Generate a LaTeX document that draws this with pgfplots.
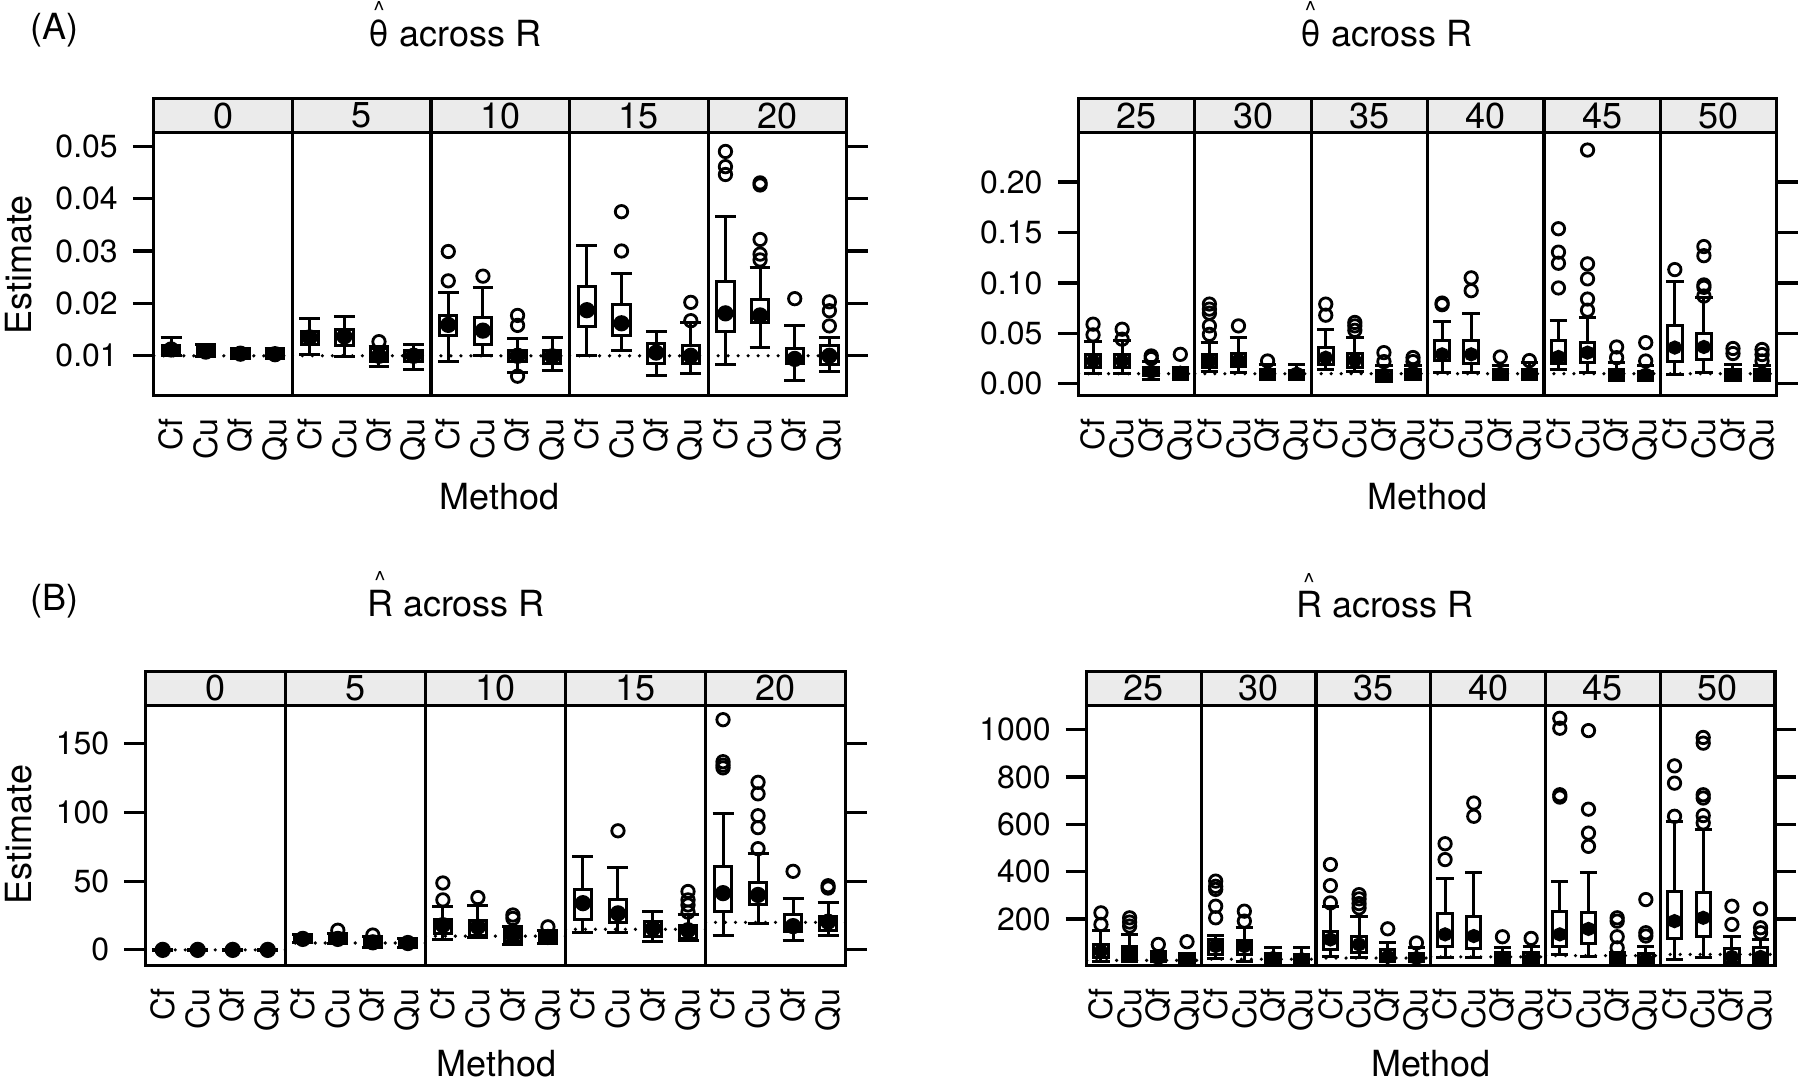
\documentclass[border=0pt]{standalone}
\usepackage{fontspec}
\setmainfont{TeX Gyre Heros}
\usepackage{pgfplots}
\pgfplotsset{compat=1.18}
\usepgfplotslibrary{statistics}

\definecolor{stripgray}{gray}{0.92}
\newcommand\labsize{\fontsize{18}{21}\selectfont}
\newcommand\ticksize{\fontsize{16}{18}\selectfont}
\newcommand\stripsize{\fontsize{18}{20}\selectfont}
% letter with a detached circumflex above it
\newcommand\hatted[1]{\leavevmode\setbox0\hbox{#1}\rlap{\hbox to\wd0{\hss\raisebox{13.8pt}{\fontsize{12}{12}\selectfont\textasciicircum}\hss}}\box0\relax}

\def\medr{3.3pt}
% shaded strip with the R level above each panel
\newcommand\striphdr[1]{%
  \draw[line width=1.6pt, fill=stripgray] (0,1) rectangle ([yshift=17pt]1,1);
  \node[font=\stripsize, inner sep=0pt] at ([yshift=8.5pt]0.5,1) {#1};}

\pgfplotsset{
  strip/.style={
    scale only axis, anchor=south west,
    xmin=0.5, xmax=4.5,
    axis line style={line width=1.6pt},
    xtick={1,2,3,4}, xticklabels={Cf,Cu,Qf,Qu},
    x tick style={draw=none},
    y tick style={line width=1.6pt, black},
    tick align=outside, major tick length=10.5pt,
    xticklabel style={rotate=90, anchor=east, inner xsep=1pt, font=\ticksize},
    yticklabel style={font=\ticksize, xshift=-4pt},
    scaled y ticks=false,
    /pgf/number format/assume math mode=true,
    /pgf/number format/1000 sep={},
  },
  first/.style={ytick pos=left},
  mid/.style={ytick=\empty},
  last/.style={ytick pos=right, yticklabels={,,,,,,}},
  panelA/.style={height=131.5pt, width=69.29pt, ymin=0.0024, ymax=0.0526,
    ytick={0.01,0.02,0.03,0.04,0.05},
    /pgf/number format/fixed, /pgf/number format/fixed zerofill, /pgf/number format/precision=2},
  panelAR/.style={height=131.5pt, width=58.175pt, ymin=-0.0117, ymax=0.249,
    ytick={0,0.05,0.10,0.15,0.20},
    /pgf/number format/fixed, /pgf/number format/fixed zerofill, /pgf/number format/precision=2},
  panelB/.style={height=130pt, width=70.04pt, ymin=-11.3, ymax=178,
    ytick={0,50,100,150}},
  panelBR/.style={height=130pt, width=57.36pt, ymin=3.9, ymax=1102.5,
    ytick={200,400,600,800,1000}},
  bxp/.style={black, line width=1.5pt, mark=o, mark size=3.1pt,
    mark options={line width=1.4pt, solid},
    boxplot/draw/median/.code={\fill (boxplot box cs:\pgfplotsboxplotvalue{median},0.5) circle[radius=\medr];}},
  refline/.style={black, line width=1.8pt, line cap=round, dash pattern=on 0pt off 5pt},
}

% one box: position, lower whisker, lower quartile, median, upper quartile, upper whisker, outliers
\newcommand\bx[7]{\addplot[bxp, boxplot prepared={draw direction=y, draw position=#1,
  lower whisker=#2, lower quartile=#3, median=#4, upper quartile=#5, upper whisker=#6,
  box extend=0.5, whisker extend=0.6}] coordinates {#7};}
% true value of the parameter
\newcommand\truth[1]{\addplot[refline] coordinates {(0.5,#1) (4.5,#1)};}

\begin{document}
\begin{tikzpicture}
\path[use as bounding box] (0pt,0pt) rectangle (900pt,541pt);

% ---------------- titles and labels ----------------
\node[anchor=base west, font=\labsize] at (11.5pt,521pt) {(A)};
\node[anchor=base, font=\labsize] at (227.5pt,517.75pt) {\hatted{θ} across R};
\node[anchor=base, font=\labsize] at (693.25pt,517.75pt) {\hatted{θ} across R};
\node[anchor=base west, font=\labsize] at (11.5pt,235.5pt) {(B)};
\node[anchor=base, font=\labsize] at (228pt,232.7pt) {\hatted{R} across R};
\node[anchor=base, font=\labsize] at (692.5pt,232pt) {\hatted{R} across R};
\node[anchor=base, rotate=90, font=\labsize] at (15.8pt,408.5pt) {Estimate};
\node[anchor=base, rotate=90, font=\labsize] at (15.8pt,123.75pt) {Estimate};
\node[anchor=base, font=\labsize] at (249.75pt,286.2pt) {Method};
\node[anchor=base, font=\labsize] at (713.75pt,286.2pt) {Method};
\node[anchor=base, font=\labsize] at (248.25pt,2.5pt) {Method};
\node[anchor=base, font=\labsize] at (715.5pt,2.5pt) {Method};

% ---------------- (A) theta-hat, R = 0..20 ----------------
\begin{axis}[strip, panelA, first, at={(76.9pt,343.2pt)}, extra description/.code={\striphdr{0}}]
\truth{0.01}
\bx{1}{0.0100}{0.0105}{0.0112}{0.0120}{0.0134}{}
\bx{2}{0.0098}{0.0102}{0.0108}{0.0115}{0.0121}{}
\bx{3}{0.0095}{0.0099}{0.0104}{0.0108}{0.0113}{}
\bx{4}{0.0094}{0.0099}{0.0103}{0.0108}{0.0113}{}
\end{axis}
\begin{axis}[strip, panelA, mid, at={(146.19pt,343.2pt)}, extra description/.code={\striphdr{5}}]
\truth{0.01}
\bx{1}{0.0103}{0.0122}{0.0135}{0.0146}{0.0172}{}
\bx{2}{0.0098}{0.0120}{0.0137}{0.0151}{0.0175}{}
\bx{3}{0.0080}{0.0090}{0.0100}{0.0113}{0.0118}{(0,0.0127)}
\bx{4}{0.0073}{0.0089}{0.0100}{0.0111}{0.0122}{}
\end{axis}
\begin{axis}[strip, panelA, mid, at={(215.48pt,343.2pt)}, extra description/.code={\striphdr{10}}]
\truth{0.01}
\bx{1}{0.0090}{0.0139}{0.0159}{0.0176}{0.0221}{(0,0.0299) (0,0.0243)}
\bx{2}{0.0101}{0.0122}{0.0148}{0.0173}{0.0230}{(0,0.0252)}
\bx{3}{0.0068}{0.0090}{0.0100}{0.0110}{0.0133}{(0,0.0177) (0,0.0158) (0,0.0061)}
\bx{4}{0.0071}{0.0086}{0.0099}{0.0110}{0.0134}{}
\end{axis}
\begin{axis}[strip, panelA, mid, at={(284.77pt,343.2pt)}, extra description/.code={\striphdr{15}}]
\truth{0.01}
\bx{1}{0.0100}{0.0155}{0.0187}{0.0232}{0.0311}{}
\bx{2}{0.0111}{0.0139}{0.0162}{0.0197}{0.0258}{(0,0.0375) (0,0.0300)}
\bx{3}{0.0062}{0.0086}{0.0106}{0.0124}{0.0146}{}
\bx{4}{0.0066}{0.0086}{0.0100}{0.0119}{0.0163}{(0,0.0202) (0,0.0167)}
\end{axis}
\begin{axis}[strip, panelA, last, at={(354.06pt,343.2pt)}, extra description/.code={\striphdr{20}}]
\truth{0.01}
\bx{1}{0.0083}{0.0146}{0.0181}{0.0242}{0.0365}{(0,0.0490) (0,0.0461) (0,0.0446)}
\bx{2}{0.0116}{0.0163}{0.0177}{0.0208}{0.0268}{(0,0.0430) (0,0.0426) (0,0.0322) (0,0.0294) (0,0.0283)}
\bx{3}{0.0052}{0.0086}{0.0094}{0.0113}{0.0157}{(0,0.0209)}
\bx{4}{0.0070}{0.0084}{0.0100}{0.0119}{0.0134}{(0,0.0203) (0,0.0186) (0,0.0157)}
\end{axis}

% ---------------- (A) theta-hat, R = 25..50 ----------------
\def\medr{2.8pt}
\begin{axis}[strip, panelAR, first, at={(539.25pt,343.2pt)}, extra description/.code={\striphdr{25}}]
\truth{0.01}
\bx{1}{0.0100}{0.0166}{0.0226}{0.0292}{0.0418}{(0,0.0591) (0,0.0485)}
\bx{2}{0.0100}{0.0166}{0.0226}{0.0292}{0.0425}{(0,0.0541) (0,0.0442)}
\bx{3}{0.004}{0.008}{0.012}{0.016}{0.022}{(0,0.0276) (0,0.025)}
\bx{4}{0.004}{0.007}{0.011}{0.014}{0.016}{(0,0.0292)}
\end{axis}
\begin{axis}[strip, panelAR, mid, at={(597.425pt,343.2pt)}, extra description/.code={\striphdr{30}}]
\truth{0.01}
\bx{1}{0.0126}{0.0166}{0.0226}{0.0292}{0.041}{(0,0.079) (0,0.074) (0,0.070) (0,0.0574) (0,0.049)}
\bx{2}{0.011}{0.0176}{0.023}{0.030}{0.0458}{(0,0.0574)}
\bx{3}{0.004}{0.007}{0.010}{0.014}{0.019}{(0,0.0226)}
\bx{4}{0.004}{0.007}{0.010}{0.013}{0.0193}{}
\end{axis}
\begin{axis}[strip, panelAR, mid, at={(655.6pt,343.2pt)}, extra description/.code={\striphdr{35}}]
\truth{0.01}
\bx{1}{0.0143}{0.0193}{0.0259}{0.0359}{0.054}{(0,0.079) (0,0.068)}
\bx{2}{0.012}{0.0166}{0.0232}{0.030}{0.0458}{(0,0.0608) (0,0.0574) (0,0.053)}
\bx{3}{0.002}{0.005}{0.008}{0.013}{0.018}{(0,0.0309) (0,0.022)}
\bx{4}{0.004}{0.006}{0.010}{0.014}{0.018}{(0,0.026) (0,0.022)}
\end{axis}
\begin{axis}[strip, panelAR, mid, at={(713.775pt,343.2pt)}, extra description/.code={\striphdr{40}}]
\truth{0.01}
\bx{1}{0.011}{0.0226}{0.0292}{0.0425}{0.0618}{(0,0.0784) (0,0.080)}
\bx{2}{0.011}{0.0199}{0.0292}{0.0425}{0.0697}{(0,0.105) (0,0.0923)}
\bx{3}{0.004}{0.006}{0.010}{0.014}{0.0186}{(0,0.0266)}
\bx{4}{0.004}{0.006}{0.010}{0.014}{0.021}{(0,0.023)}
\end{axis}
\begin{axis}[strip, panelAR, mid, at={(771.95pt,343.2pt)}, extra description/.code={\striphdr{45}}]
\truth{0.01}
\bx{1}{0.0143}{0.0199}{0.0266}{0.0432}{0.0624}{(0,0.1537) (0,0.1305) (0,0.1195) (0,0.095)}
\bx{2}{0.011}{0.0209}{0.0309}{0.0408}{0.0657}{(0,0.2317) (0,0.1189) (0,0.104) (0,0.084) (0,0.073)}
\bx{3}{0.003}{0.005}{0.009}{0.014}{0.0209}{(0,0.0365) (0,0.0259)}
\bx{4}{0.003}{0.005}{0.009}{0.012}{0.018}{(0,0.0408) (0,0.0226)}
\end{axis}
\begin{axis}[strip, panelAR, last, at={(830.125pt,343.2pt)}, extra description/.code={\striphdr{50}}]
\truth{0.01}
\bx{1}{0.0093}{0.0219}{0.0359}{0.0574}{0.1013}{(0,0.1132)}
\bx{2}{0.011}{0.0242}{0.0365}{0.0498}{0.0857}{(0,0.136) (0,0.127) (0,0.098) (0,0.0956) (0,0.087)}
\bx{3}{0.003}{0.005}{0.009}{0.014}{0.019}{(0,0.035) (0,0.030)}
\bx{4}{0.003}{0.006}{0.010}{0.014}{0.0186}{(0,0.034) (0,0.029) (0,0.0226)}
\end{axis}

% ---------------- (B) R-hat, R = 0..20 ----------------
\def\medr{3.3pt}
\begin{axis}[strip, panelB, first, at={(72.6pt,58.3pt)}, extra description/.code={\striphdr{0}}]
\truth{0}
\bx{1}{-0.5}{-0.2}{0}{0.2}{0.5}{}
\bx{2}{-0.5}{-0.2}{0}{0.2}{0.5}{}
\bx{3}{-0.5}{-0.2}{0}{0.2}{0.5}{}
\bx{4}{-0.5}{-0.2}{0}{0.2}{0.5}{}
\end{axis}
\begin{axis}[strip, panelB, mid, at={(142.64pt,58.3pt)}, extra description/.code={\striphdr{5}}]
\truth{5}
\bx{1}{5.5}{6.5}{8}{9.5}{11}{}
\bx{2}{5}{6.5}{8}{10}{12}{(0,14.3)}
\bx{3}{2}{3.5}{5.5}{7.5}{9.5}{(0,10.8)}
\bx{4}{2}{3.5}{5}{6.5}{8}{}
\end{axis}
\begin{axis}[strip, panelB, mid, at={(212.68pt,58.3pt)}, extra description/.code={\striphdr{10}}]
\truth{10}
\bx{1}{7.5}{11.9}{18}{22.2}{31.5}{(0,48.7) (0,36.4)}
\bx{2}{9}{10.7}{16.8}{21.7}{32.2}{(0,38.1)}
\bx{3}{4}{5.8}{10.7}{14.8}{16.8}{(0,25.4) (0,22.9)}
\bx{4}{4.5}{5.8}{9.4}{13}{14.3}{(0,16.8)}
\end{axis}
\begin{axis}[strip, panelB, mid, at={(282.72pt,58.3pt)}, extra description/.code={\striphdr{15}}]
\truth{15}
\bx{1}{12.4}{22.2}{34}{43.8}{68.3}{}
\bx{2}{13}{19.7}{26.6}{36.4}{59.7}{(0,86.7)}
\bx{3}{5.8}{9.9}{15.6}{20.5}{27.8}{}
\bx{4}{6.5}{8}{14.3}{18}{25.4}{(0,42.5) (0,36.4) (0,32.7) (0,27.5)}
\end{axis}
\begin{axis}[strip, panelB, last, at={(352.76pt,58.3pt)}, extra description/.code={\striphdr{20}}]
\truth{20}
\bx{1}{10.7}{27.8}{41.3}{60.9}{99.4}{(0,167.6) (0,137) (0,134.5) (0,132.5)}
\bx{2}{19.2}{32.7}{40}{49.1}{70}{(0,122) (0,113.6) (0,97.7) (0,89) (0,73.7)}
\bx{3}{6.5}{13.1}{17.3}{25.4}{37.6}{(0,57.2)}
\bx{4}{10.7}{14.3}{20.5}{24}{34.7}{(0,46.7) (0,45)}
\end{axis}

% ---------------- (B) R-hat, R = 25..50 ----------------
\def\medr{2.8pt}
\begin{axis}[strip, panelBR, first, at={(543.3pt,58.3pt)}, extra description/.code={\striphdr{25}}]
\truth{25}
\bx{1}{19.4}{36}{64.4}{92.5}{152}{(0,226) (0,177)}
\bx{2}{22}{32}{58}{85.5}{135}{(0,205) (0,187) (0,170)}
\bx{3}{5}{20}{35}{50}{64}{(0,92.5)}
\bx{4}{5}{15}{25}{40}{54}{(0,104)}
\end{axis}
\begin{axis}[strip, panelBR, mid, at={(600.66pt,58.3pt)}, extra description/.code={\striphdr{30}}]
\truth{30}
\bx{1}{32}{50}{85.5}{113.5}{130}{(0,360) (0,338) (0,325) (0,254) (0,205)}
\bx{2}{22}{50}{85.5}{111}{163}{(0,233) (0,191)}
\bx{3}{8}{20}{35}{55}{78}{}
\bx{4}{5}{15}{30}{50}{78}{}
\end{axis}
\begin{axis}[strip, panelBR, mid, at={(658.02pt,58.3pt)}, extra description/.code={\striphdr{35}}]
\truth{35}
\bx{1}{43}{71.4}{113.5}{149}{251}{(0,430) (0,341) (0,268)}
\bx{2}{36}{57.4}{92.6}{128}{209}{(0,303) (0,285) (0,265) (0,247)}
\bx{3}{5}{20}{40}{70}{99}{(0,158.5)}
\bx{4}{5}{20}{35}{55}{78}{(0,99)}
\end{axis}
\begin{axis}[strip, panelBR, mid, at={(715.37pt,58.3pt)}, extra description/.code={\striphdr{40}}]
\truth{40}
\bx{1}{36}{82}{135}{222}{371}{(0,518) (0,451)}
\bx{2}{36}{74}{128}{212}{395}{(0,690) (0,634)}
\bx{3}{5}{18}{35}{60}{78}{(0,125)}
\bx{4}{5}{18}{35}{60}{85}{(0,118)}
\end{axis}
\begin{axis}[strip, panelBR, mid, at={(772.73pt,58.3pt)}, extra description/.code={\striphdr{45}}]
\truth{45}
\bx{1}{50}{85.5}{135}{233}{360}{(0,1048) (0,1006) (0,725) (0,715)}
\bx{2}{43}{97}{158}{226}{395}{(0,996) (0,664) (0,563) (0,507)}
\bx{3}{5}{15}{30}{45}{57}{(0,205) (0,191) (0,125) (0,78)}
\bx{4}{5}{15}{30}{55}{85}{(0,282) (0,142) (0,128)}
\end{axis}
\begin{axis}[strip, panelBR, last, at={(830.09pt,58.3pt)}, extra description/.code={\striphdr{50}}]
\truth{50}
\bx{1}{29}{116}{191}{317}{612}{(0,847) (0,774) (0,634)}
\bx{2}{39}{125}{205}{310}{578}{(0,967) (0,943) (0,725) (0,711) (0,637) (0,606)}
\bx{3}{5}{15}{40}{75}{128}{(0,254) (0,177)}
\bx{4}{5}{15}{40}{80}{114}{(0,243) (0,163) (0,142)}
\end{axis}
\end{tikzpicture}
\end{document}
